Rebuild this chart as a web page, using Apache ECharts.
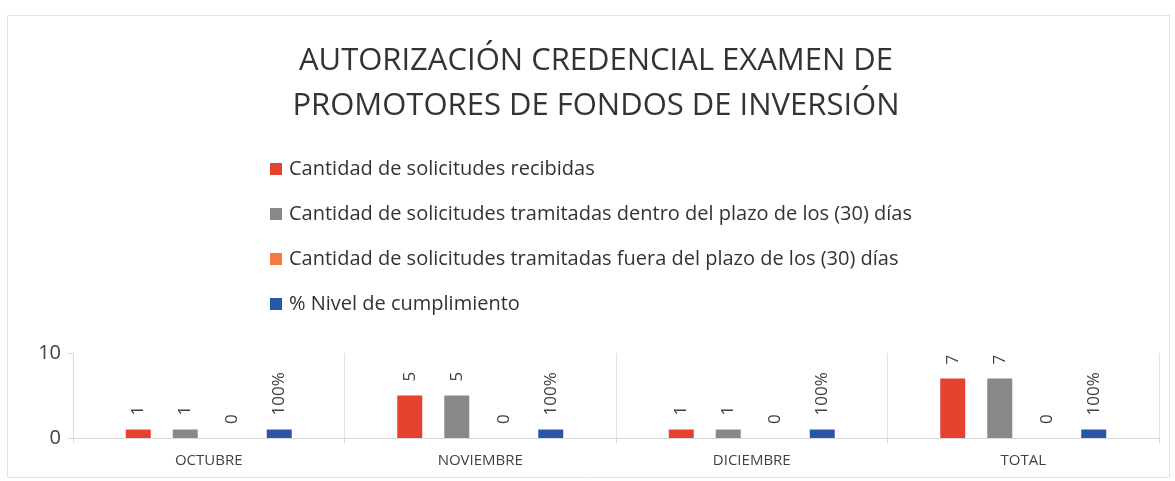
<!DOCTYPE html>
<html>
<head>
<meta charset="utf-8">
<script src="https://cdn.jsdelivr.net/npm/echarts@6/dist/echarts.min.js"></script>
<style>
  html, body { margin: 0; padding: 0; background: #fff; }
  #chart { width: 1175px; height: 481px; }
</style>
</head>
<body>
<div id="chart"></div>
<script>
// 数据
const categories = ['OCTUBRE', 'NOVIEMBRE', 'DICIEMBRE', 'TOTAL']
const recibidas = [1, 5, 1, 7]
const dentroPlazo = [1, 5, 1, 7]
const fueraPlazo = [0, 0, 0, 0]
const cumplimiento = [1, 1, 1, 1] // 100% = 1
const yTicks = [0, 10]

const seriesNames = [
  'Cantidad de solicitudes recibidas',
  'Cantidad de solicitudes tramitadas dentro del plazo de los (30) días',
  'Cantidad de solicitudes tramitadas fuera del plazo de los (30) días',
  '% Nivel de cumplimiento'
]
const colors = ['#e5432f', '#88878a', '#f47b3d', '#2a55a8']

const chart = echarts.init(document.getElementById('chart'))

// 柱上竖排标签
const rotLabel = (fmt) => ({
  show: true,
  position: 'top',
  rotate: 90,
  align: 'left',
  verticalAlign: 'middle',
  distance: 14,
  fontFamily: 'Open Sans',
  fontSize: 17,
  color: '#404040',
  formatter: fmt
})

const makeBar = (idx, data, fmt) => ({
  name: seriesNames[idx],
  type: 'bar',
  data: data,
  barWidth: 25,
  barGap: '88%',
  itemStyle: { color: colors[idx] },
  label: rotLabel(fmt)
})

const option = {
  animation: false,
  title: {
    text: 'AUTORIZACIÓN CREDENCIAL EXAMEN DE\nPROMOTORES DE FONDOS DE INVERSIÓN',
    left: 591,
    textAlign: 'center',
    top: 34,
    textStyle: {
      fontFamily: 'Open Sans',
      fontWeight: 'normal',
      fontSize: 31,
      lineHeight: 45,
      color: '#333'
    }
  },
  legend: {
    orient: 'vertical',
    left: 265,
    top: 154,
    itemWidth: 12,
    itemHeight: 12,
    itemGap: 25,
    icon: 'rect',
    data: seriesNames,
    textStyle: {
      fontFamily: 'Open Sans',
      fontSize: 20,
      lineHeight: 20,
      color: '#333',
      padding: [0, 0, 0, 2]
    }
  },
  grid: {
    left: 73,
    right: 16,
    top: 353,
    bottom: 43,
    containLabel: false
  },
  graphic: [{
    type: 'rect',
    shape: { x: 7.5, y: 15.5, width: 1162, height: 462 },
    style: { fill: 'none', stroke: '#e2e2e2', lineWidth: 1 },
    silent: true
  }],
  xAxis: {
    type: 'category',
    data: categories,
    axisLine: { lineStyle: { color: '#d9d9d9' } },
    axisTick: { show: true, length: 5, lineStyle: { color: '#d9d9d9' } },
    splitLine: { show: true, lineStyle: { color: '#e2e2e2' } },
    axisLabel: {
      fontFamily: 'Open Sans',
      fontSize: 15,
      color: '#404040',
      margin: 15
    }
  },
  yAxis: {
    type: 'value',
    min: 0,
    max: 10,
    interval: 10,
    axisLine: { show: true, lineStyle: { color: '#d9d9d9' } },
    axisTick: { show: true, length: 5, lineStyle: { color: '#d9d9d9' } },
    splitLine: { show: false },
    axisLabel: {
      fontFamily: 'Open Sans',
      fontSize: 20,
      color: '#404040',
      margin: 12,
      formatter: (v) => yTicks.includes(v) ? String(v) : ''
    }
  },
  series: [
    makeBar(0, recibidas, '{c}'),
    makeBar(1, dentroPlazo, '{c}'),
    makeBar(2, fueraPlazo, '{c}'),
    makeBar(3, cumplimiento, (p) => (p.value * 100) + '%')
  ]
}

chart.setOption(option)
</script>
</body>
</html>
